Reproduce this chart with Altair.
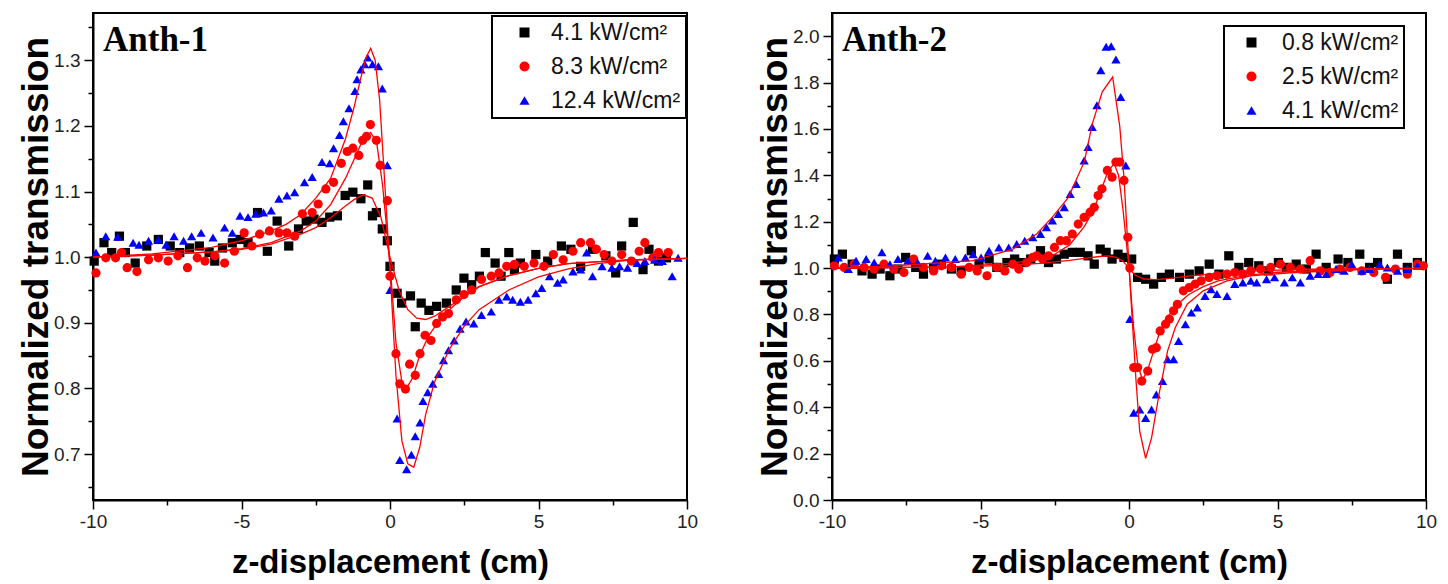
import altair as alt
import pandas as pd

# ---------------- categories / ticks ----------------
SERIES_A1 = ["4.1 kW/cm²", "8.3 kW/cm²", "12.4 kW/cm²"]
SERIES_A2 = ["0.8 kW/cm²", "2.5 kW/cm²", "4.1 kW/cm²"]
COLORS = ["#000000", "#ff0000", "#0000ff"]
SHAPES = ["square", "circle", "triangle-up"]
X_TICKS = [-10, -7.5, -5, -2.5, 0, 2.5, 5, 7.5, 10]
Y1_TICKS = [0.65, 0.70, 0.75, 0.80, 0.85, 0.90, 0.95, 1.00, 1.05, 1.10, 1.15, 1.20, 1.25, 1.30, 1.35]
Y2_TICKS = [0.0, 0.1, 0.2, 0.3, 0.4, 0.5, 0.6, 0.7, 0.8, 0.9, 1.0, 1.1, 1.2, 1.3, 1.4, 1.5, 1.6, 1.7, 1.8, 1.9, 2.0]
Y1_DOMAIN = [0.63, 1.372]
Y2_DOMAIN = [0.0, 2.1]

# ---------------- Anth-1 measured points (z cm, normalized T) ----------------
A1_P41 = [(-9.96, 0.994), (-9.63, 1.022), (-9.37, 1.007), (-9.11, 1.032), (-8.91, 1.007), (-8.58, 0.991),
          (-8.19, 1.017), (-7.8, 1.027), (-7.4, 1.017), (-7.08, 1.007), (-6.75, 1.014), (-6.42, 1.017),
          (-6.09, 1.007), (-5.9, 0.994), (-5.64, 1.014), (-5.31, 1.022), (-5.05, 1.027), (-4.78, 1.022),
          (-4.46, 1.068), (-4.13, 1.009), (-3.8, 1.055), (-3.41, 1.017), (-3.08, 1.043), (-2.82, 1.055),
          (-2.56, 1.058), (-2.29, 1.053), (-2.03, 1.061), (-1.77, 1.063), (-1.51, 1.094), (-1.25, 1.099),
          (-0.98, 1.089), (-0.75, 1.11), (-0.59, 1.063), (-0.46, 1.068), (-0.26, 1.043), (-0.09, 1.025),
          (0.0, 0.986), (0.24, 0.945), (0.39, 0.93), (0.69, 0.941), (0.85, 0.894), (1.05, 0.93),
          (1.31, 0.919), (1.57, 0.925), (1.9, 0.93), (2.23, 0.95), (2.49, 0.968), (2.75, 0.958),
          (3.01, 0.971), (3.21, 1.007), (3.54, 0.991), (3.74, 0.971), (4.0, 1.007), (4.19, 0.981),
          (4.39, 0.991), (4.91, 1.004), (5.31, 0.994), (5.77, 1.017), (6.09, 1.012), (6.42, 0.986),
          (6.82, 1.012), (7.27, 1.002), (7.6, 0.976), (7.8, 1.017), (8.19, 1.053), (8.52, 0.981),
          (8.72, 1.012), (9.04, 0.994), (9.31, 0.999)]
A1_P83 = [(-9.9, 0.976), (-9.57, 0.999), (-9.24, 0.999), (-9.04, 1.007), (-8.85, 0.984), (-8.52, 0.978),
          (-8.13, 0.996), (-7.8, 0.999), (-7.47, 0.994), (-7.14, 1.002), (-6.82, 0.984), (-6.49, 0.999),
          (-6.23, 0.994), (-5.9, 1.002), (-5.57, 0.991), (-5.24, 1.009), (-4.91, 1.037), (-4.65, 1.017),
          (-4.39, 1.035), (-4.06, 1.04), (-3.74, 1.037), (-3.47, 1.037), (-3.21, 1.032), (-2.95, 1.066),
          (-2.62, 1.068), (-2.42, 1.081), (-2.16, 1.104), (-1.9, 1.114), (-1.64, 1.143), (-1.44, 1.161),
          (-1.25, 1.166), (-1.05, 1.155), (-0.92, 1.178), (-0.79, 1.184), (-0.66, 1.202), (-0.46, 1.178),
          (-0.33, 1.14), (-0.09, 1.086), (0.0, 0.971), (0.2, 0.853), (0.33, 0.807), (0.52, 0.799),
          (0.66, 0.837), (0.85, 0.82), (1.01, 0.853), (1.18, 0.881), (1.38, 0.873), (1.57, 0.899),
          (1.77, 0.909), (1.97, 0.914), (2.23, 0.935), (2.49, 0.943), (2.75, 0.95), (3.08, 0.966),
          (3.41, 0.971), (3.67, 0.976), (3.93, 0.986), (4.19, 0.989), (4.52, 0.986), (4.85, 0.991),
          (5.18, 0.986), (5.5, 1.004), (5.83, 0.996), (6.16, 1.009), (6.42, 1.022), (6.75, 1.022),
          (6.95, 1.012), (7.21, 1.004), (7.47, 0.994), (7.8, 1.004), (8.13, 0.994), (8.39, 1.009),
          (8.58, 1.022), (8.85, 0.999), (9.04, 1.007), (9.37, 1.007)]
A1_P124 = [(-9.9, 1.007), (-9.57, 1.032), (-9.17, 1.031), (-8.65, 1.022), (-8.45, 1.019), (-8.13, 1.025),
           (-7.8, 1.027), (-7.54, 1.019), (-7.27, 1.032), (-6.95, 1.025), (-6.68, 1.032), (-6.36, 1.037),
           (-5.96, 1.03), (-5.57, 1.045), (-5.31, 1.037), (-5.05, 1.063), (-4.78, 1.061), (-4.52, 1.066),
           (-4.26, 1.068), (-4.0, 1.071), (-3.74, 1.089), (-3.47, 1.094), (-3.21, 1.099), (-2.88, 1.114),
           (-2.62, 1.122), (-2.29, 1.145), (-2.03, 1.143), (-1.9, 1.166), (-1.7, 1.186), (-1.57, 1.207),
           (-1.38, 1.227), (-1.18, 1.253), (-1.11, 1.271), (-0.98, 1.286), (-0.85, 1.294), (-0.75, 1.304),
           (-0.59, 1.294), (-0.39, 1.291), (-0.26, 1.257), (-0.09, 1.14), (0.0, 0.95), (0.24, 0.754),
           (0.33, 0.691), (0.56, 0.677), (0.72, 0.699), (0.85, 0.727), (1.01, 0.748), (1.11, 0.781),
           (1.27, 0.794), (1.44, 0.807), (1.64, 0.822), (1.8, 0.843), (1.97, 0.858), (2.16, 0.873),
           (2.36, 0.891), (2.56, 0.902), (2.82, 0.899), (3.08, 0.912), (3.41, 0.917), (3.67, 0.935),
           (3.93, 0.94), (4.13, 0.935), (4.39, 0.932), (4.65, 0.935), (4.91, 0.945), (5.11, 0.953),
           (5.37, 0.971), (5.64, 0.961), (5.83, 0.966), (6.16, 0.978), (6.42, 0.981), (6.62, 1.007),
           (6.82, 0.971), (7.14, 0.986), (7.47, 0.984), (7.73, 0.986), (8.0, 0.984), (8.32, 0.991),
           (8.58, 0.994), (8.91, 0.996), (9.17, 0.994), (9.5, 0.971), (9.7, 0.999)]

# ---------------- Anth-1 fitted curves ----------------
A1_F41 = [(-10, 1.0), (-8, 1.003), (-6, 1.008), (-5, 1.012), (-4, 1.02), (-3, 1.035), (-2.5, 1.045),
          (-2, 1.06), (-1.5, 1.078), (-1.2, 1.088), (-0.9, 1.095), (-0.6, 1.09), (-0.3, 1.06), (0, 1.0),
          (0.3, 0.95), (0.6, 0.92), (0.9, 0.907), (1.2, 0.905), (1.5, 0.91), (2, 0.925), (2.5, 0.94),
          (3, 0.955), (4, 0.972), (5, 0.983), (6, 0.99), (8, 0.996), (10, 0.998)]
A1_F83 = [(-10, 1.0), (-8, 1.003), (-6, 1.008), (-5, 1.013), (-4, 1.022), (-3, 1.04), (-2.5, 1.055),
          (-2, 1.08), (-1.5, 1.12), (-1.2, 1.15), (-0.9, 1.18), (-0.65, 1.19), (-0.45, 1.175), (-0.25, 1.11),
          (0, 0.99), (0.2, 0.87), (0.4, 0.81), (0.55, 0.8), (0.75, 0.815), (1.0, 0.85), (1.3, 0.88),
          (1.6, 0.9), (2, 0.92), (2.5, 0.94), (3, 0.955), (4, 0.972), (5, 0.983), (6, 0.99), (8, 0.996),
          (10, 0.998)]
A1_F124 = [(-10, 1.0), (-8, 1.005), (-6, 1.015), (-5, 1.025), (-4, 1.04), (-3.5, 1.05), (-3, 1.065),
           (-2.5, 1.09), (-2, 1.12), (-1.5, 1.18), (-1.2, 1.23), (-1.0, 1.27), (-0.8, 1.305), (-0.65, 1.318),
           (-0.5, 1.3), (-0.35, 1.24), (-0.2, 1.13), (0, 0.98), (0.2, 0.82), (0.4, 0.72), (0.6, 0.685),
           (0.8, 0.68), (1.0, 0.71), (1.2, 0.76), (1.5, 0.81), (2, 0.86), (2.5, 0.895), (3, 0.92),
           (4, 0.95), (5, 0.97), (6, 0.982), (7, 0.99), (8, 0.995), (10, 0.998)]

# ---------------- Anth-2 measured points ----------------
A2_P08 = [(-9.92, 1.039), (-9.65, 1.06), (-9.32, 1.017), (-8.99, 0.988), (-8.65, 0.974), (-8.38, 0.996),
          (-8.05, 0.967), (-7.78, 0.996), (-7.52, 1.046), (-7.18, 1.003), (-6.92, 0.974), (-6.58, 1.003),
          (-6.32, 1.017), (-5.98, 0.996), (-5.65, 0.988), (-5.31, 1.075), (-5.05, 1.017), (-4.71, 1.039),
          (-4.45, 1.003), (-4.11, 1.024), (-3.85, 1.039), (-3.58, 1.024), (-3.31, 1.039), (-2.98, 1.075),
          (-2.71, 1.024), (-2.44, 1.039), (-2.18, 1.06), (-1.91, 1.068), (-1.64, 1.068), (-1.38, 1.053),
          (-1.17, 1.017), (-0.97, 1.082), (-0.77, 1.068), (-0.57, 1.039), (-0.37, 1.06), (-0.17, 1.046),
          (0.09, 1.039), (0.29, 0.96), (0.56, 0.952), (0.83, 0.931), (1.09, 0.96), (1.36, 0.974),
          (1.7, 0.96), (2.03, 0.974), (2.36, 0.988), (2.7, 1.017), (3.03, 0.974), (3.36, 1.053),
          (3.7, 1.003), (4.03, 1.024), (4.37, 1.01), (4.7, 0.988), (5.03, 1.024), (5.3, 1.003),
          (5.63, 1.017), (5.97, 0.996), (6.3, 1.06), (6.64, 1.003), (7.04, 1.039), (7.37, 1.024),
          (7.77, 1.06), (8.1, 1.003), (8.37, 1.024), (8.7, 0.952), (9.04, 1.06), (9.37, 1.003),
          (9.71, 1.024)]
A2_P25 = [(-9.92, 1.01), (-9.59, 1.003), (-9.25, 1.017), (-8.92, 1.003), (-8.58, 0.996), (-8.25, 1.017),
          (-7.92, 0.996), (-7.58, 0.981), (-7.25, 1.039), (-6.92, 1.003), (-6.58, 0.988), (-6.32, 1.01),
          (-5.98, 1.003), (-5.65, 0.974), (-5.38, 1.003), (-5.11, 0.988), (-4.78, 0.967), (-4.45, 1.003),
          (-4.18, 0.988), (-3.91, 1.017), (-3.71, 0.996), (-3.44, 1.024), (-3.24, 1.046), (-3.11, 1.053),
          (-2.91, 1.039), (-2.71, 1.053), (-2.51, 1.089), (-2.31, 1.118), (-2.11, 1.118), (-1.91, 1.147),
          (-1.71, 1.19), (-1.51, 1.219), (-1.31, 1.241), (-1.17, 1.262), (-1.04, 1.313), (-0.91, 1.342),
          (-0.73, 1.421), (-0.57, 1.392), (-0.44, 1.457), (-0.31, 1.457), (-0.17, 1.378), (-0.04, 1.133),
          (0.03, 1.0), (0.16, 0.571), (0.29, 0.571), (0.43, 0.513), (0.63, 0.556), (0.79, 0.65),
          (0.92, 0.657), (1.05, 0.729), (1.23, 0.758), (1.36, 0.78), (1.5, 0.816), (1.63, 0.844),
          (1.83, 0.902), (2.03, 0.916), (2.23, 0.931), (2.43, 0.945), (2.7, 0.96), (2.96, 0.967),
          (3.3, 0.974), (3.56, 0.981), (3.83, 0.974), (4.1, 0.988), (4.43, 0.996), (4.77, 1.003),
          (5.1, 1.017), (5.43, 1.003), (5.77, 0.996), (6.1, 1.032), (6.44, 0.988), (6.77, 0.981),
          (7.1, 0.996), (7.44, 1.003), (7.84, 0.988), (8.24, 0.981), (8.64, 0.96), (8.97, 0.996),
          (9.37, 0.974), (9.71, 1.017), (9.91, 1.01)]
A2_P41 = [(-9.79, 1.046), (-9.45, 0.996), (-9.19, 1.032), (-8.85, 1.039), (-8.58, 1.024), (-8.32, 1.068),
          (-8.05, 1.017), (-7.78, 1.039), (-7.45, 1.032), (-7.12, 1.024), (-6.78, 1.053), (-6.52, 1.032),
          (-6.18, 1.046), (-5.85, 1.039), (-5.51, 1.046), (-5.25, 1.06), (-4.98, 1.046), (-4.71, 1.075),
          (-4.38, 1.089), (-4.05, 1.089), (-3.78, 1.104), (-3.51, 1.118), (-3.24, 1.133), (-2.98, 1.147),
          (-2.78, 1.176), (-2.58, 1.205), (-2.38, 1.233), (-2.18, 1.262), (-1.98, 1.32), (-1.78, 1.363),
          (-1.51, 1.464), (-1.38, 1.522), (-1.24, 1.608), (-1.08, 1.702), (-0.95, 1.853), (-0.77, 1.954),
          (-0.6, 1.957), (-0.44, 1.899), (-0.28, 1.738), (-0.11, 1.442), (0.03, 0.78), (0.16, 0.376),
          (0.36, 0.39), (0.56, 0.354), (0.76, 0.39), (0.92, 0.455), (1.13, 0.513), (1.3, 0.607),
          (1.5, 0.607), (1.67, 0.686), (1.9, 0.758), (2.1, 0.808), (2.3, 0.83), (2.56, 0.88),
          (2.76, 0.909), (2.96, 0.888), (3.3, 0.88), (3.56, 0.931), (3.83, 0.938), (4.1, 0.945),
          (4.3, 0.938), (4.63, 0.952), (4.9, 0.96), (5.23, 0.938), (5.5, 0.96), (5.77, 0.938),
          (6.1, 0.967), (6.37, 0.974), (6.64, 0.974), (6.97, 0.996), (7.24, 0.988), (7.5, 1.017),
          (7.84, 0.988), (8.1, 0.996), (8.44, 1.017), (8.7, 1.003), (9.04, 0.988), (9.37, 0.996),
          (9.71, 1.01)]

# ---------------- Anth-2 fitted curves ----------------
A2_F08 = [(-10, 1.0), (-6, 1.005), (-4, 1.012), (-3, 1.02), (-2, 1.033), (-1.5, 1.042), (-1, 1.05),
          (-0.7, 1.053), (-0.4, 1.045), (-0.2, 1.03), (0, 1.0), (0.2, 0.97), (0.5, 0.953), (0.9, 0.95),
          (1.3, 0.955), (2, 0.965), (3, 0.978), (4, 0.987), (6, 0.995), (10, 0.999)]
A2_F25 = [(-10, 1.0), (-6, 1.005), (-4, 1.02), (-3, 1.04), (-2.5, 1.06), (-2, 1.1), (-1.5, 1.18),
          (-1.2, 1.25), (-0.9, 1.35), (-0.7, 1.42), (-0.5, 1.45), (-0.35, 1.4), (-0.2, 1.25), (0, 1.0),
          (0.15, 0.75), (0.3, 0.58), (0.45, 0.52), (0.6, 0.55), (0.8, 0.63), (1.0, 0.71), (1.3, 0.79),
          (1.6, 0.84), (2, 0.885), (2.5, 0.92), (3, 0.945), (4, 0.97), (5, 0.982), (7, 0.993), (10, 0.999)]
A2_F41 = [(-10, 1.0), (-7.9, 1.01), (-5.25, 1.032), (-3.91, 1.082), (-3.11, 1.147), (-2.58, 1.22),
          (-2.04, 1.305), (-1.5, 1.46), (-1.24, 1.62), (-0.9, 1.76), (-0.55, 1.824), (-0.31, 1.61),
          (-0.17, 1.39), (-0.04, 1.10), (0.09, 0.816), (0.23, 0.527), (0.36, 0.297), (0.56, 0.18),
          (0.76, 0.268), (1.03, 0.47), (1.3, 0.643), (1.56, 0.744), (1.96, 0.844), (2.5, 0.902),
          (3.3, 0.945), (4.1, 0.967), (5.43, 0.98), (8.1, 0.996), (10, 1.0)]


def frame(groups, names):
    rows = []
    for pairs, name in zip(groups, names):
        for z, t in pairs:
            rows.append({"z": z, "T": t, "series": name})
    return pd.DataFrame(rows)


FONT = "Liberation Sans"


def is_major(step):
    return f"abs(datum.value/{step} - round(datum.value/{step})) < 0.001"


def panel(points, fits, names, ydomain, yticks, ystep, tag, lx, ly, sym_off, lab_off):
    xaxis = alt.Axis(
        values=X_TICKS, title="z-displacement (cm)",
        labelExpr=f"{is_major(5)} ? '' + datum.value : ''",
        tickSize={"condition": {"test": is_major(5), "value": 9}, "value": 5},
        labelFlush=False, labelOverlap=False, grid=False,
    )
    yaxis = alt.Axis(
        values=yticks, title="Normalized transmission",
        labelExpr=f"{is_major(ystep)} ? format(datum.value, '.1f') : ''",
        tickSize={"condition": {"test": is_major(ystep), "value": 9}, "value": 5},
        labelOverlap=False, grid=False,
    )
    legend = alt.Legend(
        title=None, orient="none", legendX=lx, legendY=ly,
        strokeColor="black", fillColor="white", padding=5,
        symbolOffset=sym_off, labelOffset=lab_off, labelFontSize=23, labelFont=FONT,
        labelColor="#111111", symbolSize=100, rowPadding=10, symbolStrokeWidth=0,
    )
    x = alt.X("z:Q", scale=alt.Scale(domain=[-10, 10], nice=False), axis=xaxis)
    y = alt.Y("T:Q", scale=alt.Scale(domain=ydomain, nice=False, zero=False), axis=yaxis)
    pts = alt.Chart(points).mark_point(filled=True, opacity=1, size=85).encode(
        x=x, y=y,
        color=alt.Color("series:N", scale=alt.Scale(domain=names, range=COLORS), legend=legend),
        shape=alt.Shape("series:N", scale=alt.Scale(domain=names, range=SHAPES), legend=legend),
    )
    lines = alt.Chart(fits).mark_line(color="#ff0000", strokeWidth=1.3).encode(
        x=x, y=y, detail="series:N", order="z:Q"
    )
    label = alt.Chart(pd.DataFrame({"t": [tag]})).mark_text(
        font="Liberation Serif", fontWeight="bold", fontSize=35, align="left",
        baseline="alphabetic", color="black",
    ).encode(x=alt.value(10), y=alt.value(38), text="t:N")
    return alt.layer(pts, lines, label).properties(width=594, height=487)


left = panel(frame([A1_P41, A1_P83, A1_P124], SERIES_A1),
             frame([A1_F41, A1_F83, A1_F124], SERIES_A1),
             SERIES_A1, Y1_DOMAIN, Y1_TICKS, 0.1, "Anth-1", 399, 3, 16, 15)
right = panel(frame([A2_P08, A2_P25, A2_P41], SERIES_A2),
              frame([A2_F08, A2_F25, A2_F41], SERIES_A2),
              SERIES_A2, Y2_DOMAIN, Y2_TICKS, 0.2, "Anth-2", 392, 13, 11, 19)

chart = alt.hconcat(left, right, spacing=56).resolve_scale(
    x="independent", y="independent", color="independent", shape="independent"
).resolve_legend(color="independent", shape="independent").configure(
    padding={"left": 8, "top": 4, "right": 0, "bottom": 0},
    background="white",
).configure_view(
    stroke="black", strokeWidth=2
).configure_axis(
    domainColor="black", domainWidth=2, tickColor="black", tickWidth=1.5,
    labelFont=FONT, labelFontSize=19, labelColor="#222222",
    titleFont=FONT, titleFontWeight="bold", titleColor="black",
).configure_axisX(
    titlePadding=15, titleFontSize=33, labelPadding=3,
).configure_axisY(
    titlePadding=6, titleBaseline="alphabetic", titleFontSize=37, labelPadding=4,
).configure_legend(
    strokeWidth=2
)

chart.save("out.html", embed_options={"renderer": "svg", "actions": False})
